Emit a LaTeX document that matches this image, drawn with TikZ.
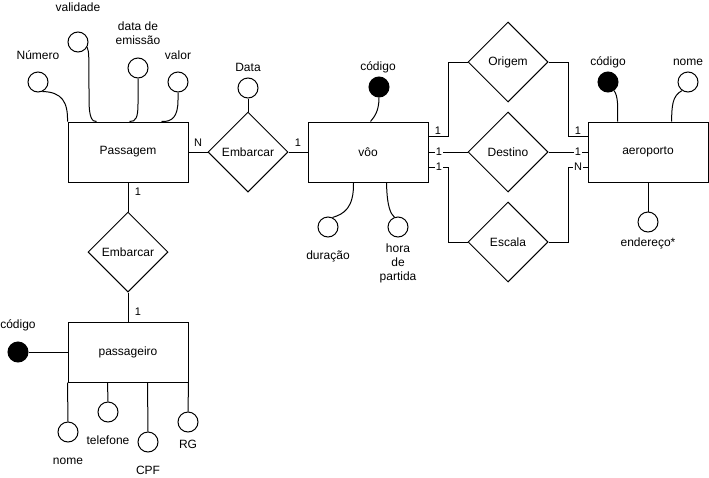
\documentclass[tikz,border=0pt]{standalone}
\usepackage{fontspec}
\setmainfont{Liberation Sans}
\usetikzlibrary{shapes.geometric,calc}
\begin{document}
\begin{tikzpicture}[x=1pt,y=-1pt,line width=1pt,
  every node/.style={font=\fontsize{12}{14}\selectfont},
  entity/.style={draw,rectangle,minimum width=120pt,minimum height=60pt,inner sep=0pt},
  rel/.style={draw,diamond,aspect=1,minimum width=80pt,minimum height=80pt,inner sep=0pt},
  attr/.style={draw,circle,minimum size=20pt,inner sep=0pt,fill=white},
  keyattr/.style={attr,fill=black},
  txt/.style={inner sep=0pt,align=center},
  card/.style={inner sep=0pt,font=\fontsize{11}{13}\selectfont},
  cardon/.style={card,fill=white,inner xsep=1pt,inner ysep=0.5pt}]
\useasboundingbox (0,0) rectangle (709,477);

% entities and relationships
\node[entity] (pass) at (128,152) {Passagem};
\node[rel] (emb1) at (248,152) {Embarcar};
\node[entity] (voo) at (368,152) {vôo};
\node[rel] (orig) at (508,62) {Origem};
\node[rel] (dest) at (508,152) {Destino};
\node[rel] (esc) at (508,242) {Escala};
\node[entity] (aero) at (648,152) {aeroporto};
\node[rel] (emb2) at (128,252) {Embarcar};
\node[entity] (passg) at (128,352) {passageiro};

% attributes of Passagem
\node[attr] (aNum) at (38,82) {};
\node[txt] (tNum) at (38,55) {Número};
\node[attr] (aVal) at (78,42) {};
\node[txt] (tVal) at (78,7) {validade};
\node[attr] (aEmi) at (138,68) {};
\node[txt] (tEmi) at (138,33) {data de\\emissão};
\node[attr] (aValor) at (178,82) {};
\node[txt] (tValor) at (178,55) {valor};

% attribute of the Embarcar relationship
\node[attr] (aData) at (248,88) {};
\node[txt] (tData) at (248,67) {Data};

% attributes of vôo
\node[keyattr] (aCodV) at (379,87) {};
\node[txt] (tCodV) at (378,67) {código};
\node[attr] (aDur) at (328,227) {};
\node[txt] (tDur) at (328,256) {duração};
\node[attr] (aHora) at (398,227) {};
\node[txt] (tHora) at (398,263) {hora\\de\\partida};

% attributes of aeroporto
\node[keyattr] (aCodA) at (608,82) {};
\node[txt] (tCodA) at (608,62) {código};
\node[attr] (aNomeA) at (688,82) {};
\node[txt] (tNomeA) at (688,62) {nome};
\node[attr] (aEnd) at (648,222) {};
\node[txt] (tEnd) at (648,243) {endereço*};

% attributes of passageiro
\node[keyattr] (aCodP) at (18,352) {};
\node[txt] (tCodP) at (18,325) {código};
\node[attr] (aNomeP) at (68,432) {};
\node[txt] (tNomeP) at (68,461) {nome};
\node[attr] (aTel) at (108,412) {};
\node[txt] (tTel) at (108,440) {telefone};
\node[attr] (aCPF) at (148,442) {};
\node[txt] (tCPF) at (148,470) {CPF};
\node[attr] (aRG) at (188,422) {};
\node[txt] (tRG) at (188,444) {RG};

% side ports on vôo and aeroporto
\coordinate (v1) at ($(voo.north east)!.25!(voo.south east)$);
\coordinate (v3) at ($(voo.north east)!.75!(voo.south east)$);
\coordinate (r1) at ($(aero.north west)!.25!(aero.south west)$);
\coordinate (r3) at ($(aero.north west)!.75!(aero.south west)$);

% relationship connectors
\draw (pass.east) -- (emb1.west);
\draw (emb1.east) -- (voo.west);
\draw (aData.south) -- (emb1.north);
\draw (pass.south) -- (emb2.north);
\draw (emb2.south) -- (passg.north);
\draw (v1) -- ++(20,0) |- (orig.west);
\draw (voo.east) -- (dest.west);
\draw (v3) -- ++(20,0) |- (esc.west);
\draw (orig.east) -- ++(20,0) |- (r1);
\draw (dest.east) -- (aero.west);
\draw (esc.east) -- ++(20,0) |- (r3);

% cardinalities
\node[card] (cN1) at (198,143) {N};
\node[card] (c11) at (298,143) {1};
\node[card] (c12) at (138,192) {1};
\node[card] (c13) at (138,312) {1};
\node[card] (c14) at (438,131) {1};
\node[cardon] (c15) at (439,152) {1};
\node[cardon] (c16) at (439,167) {1};
\node[card] (c17) at (578,131) {1};
\node[cardon] (c18) at (578,152) {1};
\node[cardon] (cN2) at (578,167) {N};

% attribute links of Passagem
\draw (aNum.-65) .. controls (62,92) and (68,102) .. (pass.north west);
\draw (aVal.-30) .. controls (89,52) .. (89,100)
      .. controls (89,117) and (92,122) .. ($(pass.north west)+(29,0)$);
\draw (aEmi.south) -- (138,104)
      .. controls (138,117) and (136,122) .. ($(pass.north west)+(62,0)$);
\draw (aValor.south) -- (178,100)
      .. controls (178,117) and (172,122) .. ($(pass.north west)+(94,0)$);

% attribute links of vôo
\draw (aCodV.south) .. controls (379,112) and (374,117) .. ($(voo.north west)+(63,0)$);
\draw ($(voo.south west)+(46,0)$) .. controls (354,208) and (344,214) .. (aDur.65);
\draw ($(voo.south west)+(79,0)$) .. controls (387,208) and (391,214) .. (aHora.110);

% attribute links of aeroporto
\draw (aCodA.-55) .. controls (618,96) and (618,106) .. ($(aero.north west)+(30,0)$);
\draw (aNomeA.-125) .. controls (672,96) and (672,106) .. ($(aero.north west)+(84,0)$);
\draw (aero.south) -- (aEnd.north);

% attribute links of passageiro
\draw (aCodP.east) -- (passg.west);
\draw (passg.south west) -- (aNomeP.north);
\draw ($(passg.south west)+(40,0)$) -- (aTel.north);
\draw ($(passg.south west)+(80,0)$) -- (aCPF.north);
\draw (passg.south east) -- (aRG.north);
\end{tikzpicture}
\end{document}
